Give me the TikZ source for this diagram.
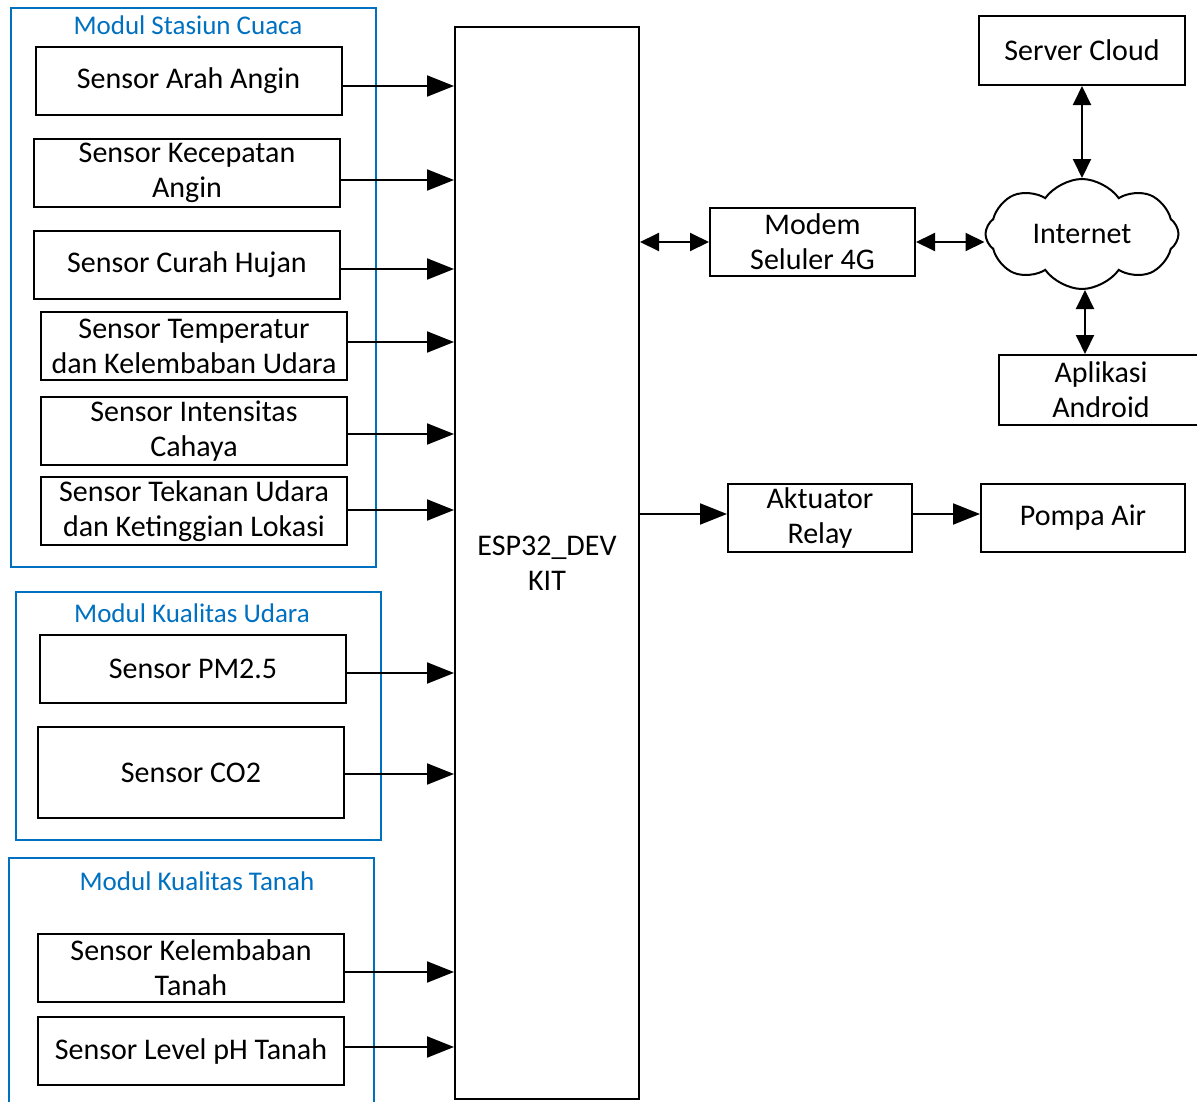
\documentclass[tikz,border=0pt]{standalone}
\usepackage{fontspec}
\setmainfont{Carlito}
\usetikzlibrary{arrows.meta,shapes.symbols}
\definecolor{modulblue}{RGB}{0,112,192}
\begin{document}
\begin{tikzpicture}[x=1pt, y=-1pt]

  \tikzset{
    block/.style={
      draw=black, line width=2pt, align=center,
      inner sep=0pt, font=\fontsize{30}{35}\selectfont,
    },
    sensor/.style={block, minimum width=306pt, minimum height=68pt},
    modul/.style={draw=modulblue, line width=1.5pt},
    modul title/.style={text=modulblue, font=\fontsize{27}{31}\selectfont},
    link/.style={line width=2pt, -{Triangle[length=27pt,width=21pt]}},
    duplex/.style={line width=2pt, {Triangle[length=19pt,width=18pt]}-{Triangle[length=19pt,width=18pt]}},
  }

  \useasboundingbox (0,0) rectangle (1197,1101);

  % module frames
  \draw[modul] (11,8) rectangle (376,567);
  \draw[modul] (16,592) rectangle (381,840);
  \draw[modul] (9,1110) |- (374,858) -- (374,1110);
  \node[modul title] (cuaca) at (188,25) {Modul Stasiun Cuaca};
  \node[modul title] (udara) at (192,613) {Modul Kualitas Udara};
  \node[modul title] (tanah) at (197,881) {Modul Kualitas Tanah};

  % sensors
  \node[sensor] (arah) at (188.5,81) {Sensor Arah Angin};
  \node[sensor] (kecepatan) at (187,173) {Sensor Kecepatan\\Angin};
  \node[sensor] (hujan) at (187,265) {Sensor Curah Hujan};
  \node[sensor] (temperatur) at (194,346) {Sensor Temperatur\\dan Kelembaban Udara};
  \node[sensor] (cahaya) at (194,431) {Sensor Intensitas\\Cahaya};
  \node[sensor] (tekanan) at (194,511) {Sensor Tekanan Udara\\dan Ketinggian Lokasi};
  \node[sensor] (pm) at (193,668.5) {Sensor PM2.5};
  \node[sensor, minimum height=91pt] (co) at (191,772.5) {Sensor CO2};
  \node[sensor] (lembab) at (191,968) {Sensor Kelembaban\\Tanah};
  \node[sensor] (ph) at (191,1051) {Sensor Level pH Tanah};

  % controller and outputs
  \node[block, minimum width=184pt, minimum height=1072pt] (esp) at (547,563) {ESP32\_DEV\\KIT};
  \node[block, minimum width=205pt, minimum height=68pt] (modem) at (812.5,242) {Modem\\Seluler 4G};
  \node[block, minimum width=206pt, minimum height=69pt] (server) at (1082,50.5) {Server Cloud};
  \node[block, cloud, cloud puffs=8, cloud puff arc=110, aspect=1.75,
        minimum width=193pt, minimum height=110pt, line width=2pt] (internet) at (1082,234) {Internet};
  \node[block, minimum width=204pt, minimum height=70pt] (android) at (1101,390) {Aplikasi\\Android};
  \node[block, minimum width=184pt, minimum height=68pt] (relay) at (820,518) {Aktuator\\Relay};
  \node[block, minimum width=204pt, minimum height=68pt] (pompa) at (1083,518) {Pompa Air};

  % sensor links
  \foreach \n/\y in {arah/86,kecepatan/180,hujan/269,temperatur/342,cahaya/434,
                     tekanan/510,pm/673,co/774,lembab/972,ph/1047} {
    \draw[link] (\n.east |- 0,\y) -- (esp.west |- 0,\y);
  }

  \draw[duplex] (esp.east |- modem.west) -- (modem.west);
  \draw[duplex] (modem.east) -- (internet.west |- modem.east);
  \draw[duplex] (server.south) -- (internet.north);
  \draw[duplex] ([xshift=3pt]internet.south) -- ([xshift=3pt]internet.south |- android.north);
  \draw[link] ([yshift=4pt]esp.east |- relay.west) coordinate (espout) -- (relay.west |- espout);
  \draw[link] (relay.east |- espout) -- (pompa.west |- espout);

\end{tikzpicture}
\end{document}
